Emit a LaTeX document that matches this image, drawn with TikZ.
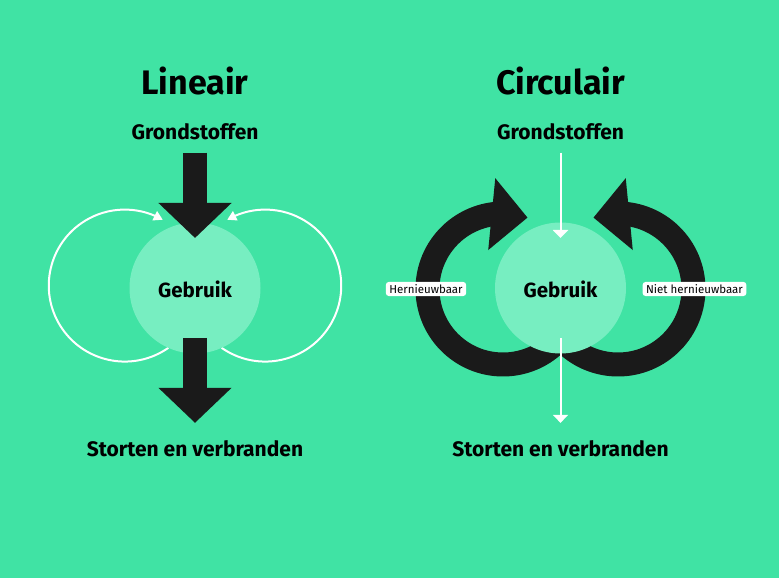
\documentclass[tikz,border=0pt]{standalone}
\usepackage{fontspec}
\setmainfont{Fira Sans}
\usetikzlibrary{arrows.meta,bending}
\definecolor{grasgroen}{HTML}{40E3A4}
\definecolor{lichtgroen}{HTML}{77EEC1}
\definecolor{inkt}{HTML}{1A1A1A}
\pgfdeclarelayer{bg}
\pgfdeclarelayer{achter}
\pgfsetlayers{bg,achter,main}
\begin{document}
\begin{tikzpicture}[x=1pt,y=1pt,
 titel/.style={font=\bfseries\fontsize{34}{34}\selectfont,inner sep=0,anchor=base},
 kop/.style={font=\bfseries\fontsize{21}{21}\selectfont,inner sep=0,anchor=base},
 bol/.style={circle,fill=lichtgroen,minimum size=131pt,inner sep=0,outer sep=0,
   text height=20pt,text depth=0pt,font=\bfseries\fontsize{20.5}{20.5}\selectfont},
 dik/.style={draw=inkt,line width=24pt,-{Triangle[length=35pt,width=71pt]}},
 dun/.style={draw=white,line width=2pt,-{Triangle[length=8pt,width=15pt]}},
 lus/.style={draw=white,line width=2pt,-{Triangle[length=9pt,width=10pt]}},
 band/.style={draw=inkt,line width=24pt,-{Triangle[length=36pt,width=70pt]}},
 etiket/.style={fill=white,rounded corners=3pt,inner xsep=3.5pt,inner ysep=2.5pt,
   font=\fontsize{11.5}{11.5}\selectfont}]
 \useasboundingbox (0,0) rectangle (779,578);
 \begin{pgfonlayer}{bg}
   \fill[grasgroen] (0,0) rectangle (779,578);
 \end{pgfonlayer}
 % beide helften
 \foreach \n/\x/\t in {L/195/Lineair,R/560.5/Circulair}{
   \node[titel] (titel\n) at (\x,483) {\t};
   \node[kop] (grond\n) at (\x,438) {Grondstoffen};
   \node[bol] (gebruik\n) at (\x,290) {Gebruik};
   \node[kop] (stort\n) at (\x,121) {Storten en verbranden};
 }
 % lineair
 \draw[dik] ([yshift=-12]grondL.south) -- ([yshift=-15.5]gebruikL.north);
 \draw[dik] ([yshift=15.5]gebruikL.south) -- ([yshift=18]stortL.north);
 \begin{pgfonlayer}{achter}
   \draw[lus] (gebruikL.246) arc[start angle=-55,end angle=-300,radius=76];
   \draw[lus] (gebruikL.294) arc[start angle=235,end angle=480,radius=76];
 \end{pgfonlayer}
 % circulair
 \draw[dun] ([yshift=-12]grondR.south) -- ([yshift=-15.5]gebruikR.north);
 \draw[dun] ([yshift=15.5]gebruikR.south) -- ([yshift=18]stortR.north);
 \coordinate (draaiL) at (503,289);
 \coordinate (draaiR) at (618,289);
 \begin{pgfonlayer}{achter}
   \draw[band] ([shift={(-40:75.5)}]draaiL) arc[start angle=-40,end angle=-289,radius=75.5];
   \draw[band] ([shift={(220:75.5)}]draaiR) arc[start angle=220,end angle=469,radius=75.5];
 \end{pgfonlayer}
 \node[etiket] (hernieuw) at ([xshift=-77]draaiL) {Hernieuwbaar};
 \node[etiket] (niethernieuw) at ([xshift=76.5]draaiR) {Niet hernieuwbaar};
\end{tikzpicture}
\end{document}
